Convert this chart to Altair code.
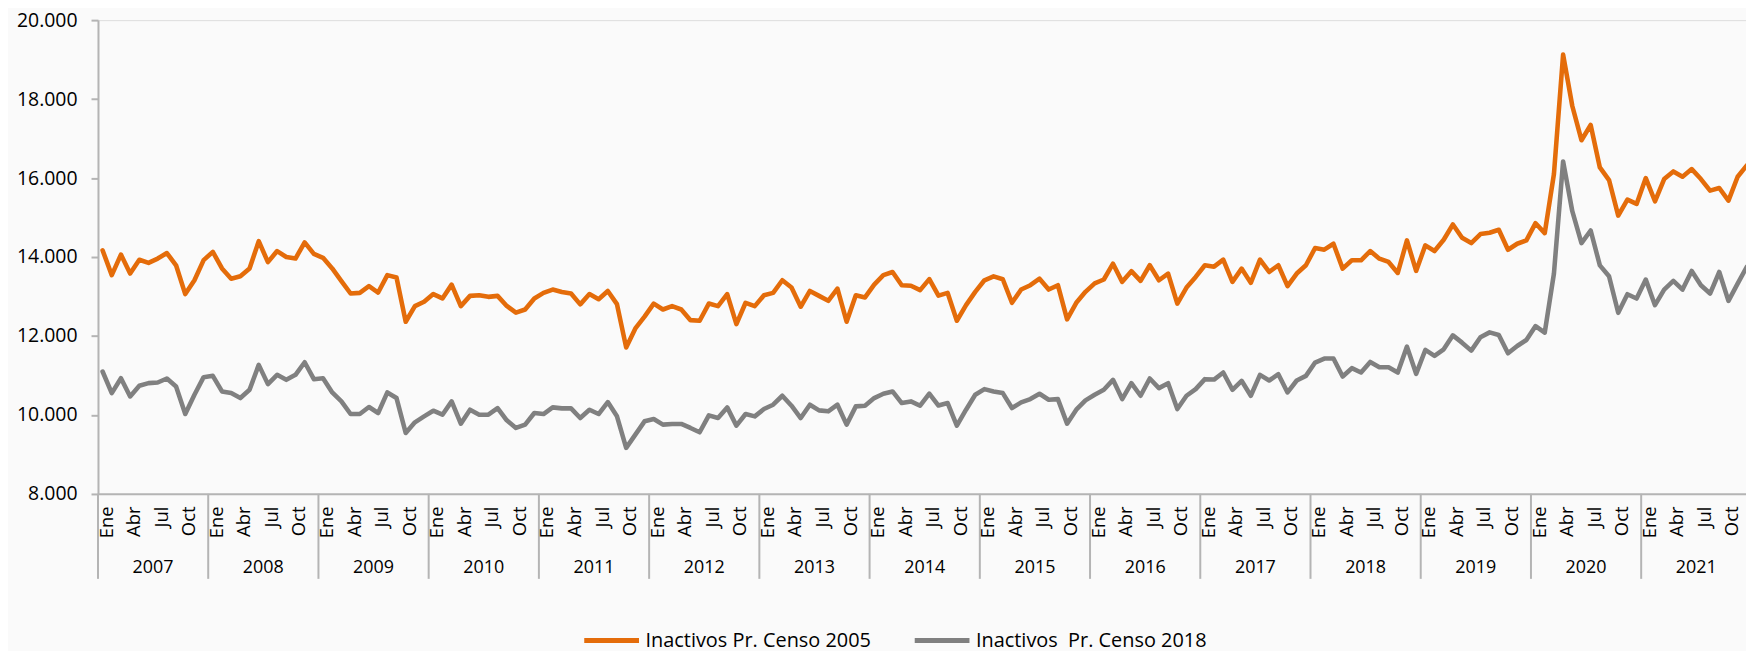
import altair as alt
import pandas as pd

years = list(range(2007, 2022))
month_names = ["Ene", "Feb", "Mar", "Abr", "May", "Jun", "Jul", "Ago", "Sep", "Oct", "Nov", "Dic"]
shown_months = [0, 3, 6, 9]
series_names = ["Inactivos Pr. Censo 2005", "Inactivos\u00a0 Pr. Censo 2018"]
series_colors = ["#e46c0a", "#808080"]
y_ticks = [8000, 10000, 12000, 14000, 16000, 18000, 20000]

censo_2005 = [
    14170, 13540, 14060, 13580, 13930, 13850, 13960, 14100, 13790, 13060, 13410, 13920,
    14130, 13710, 13450, 13510, 13710, 14400, 13870, 14150, 14000, 13960, 14370, 14080,
    13980, 13710, 13390, 13075, 13090, 13260, 13100, 13540, 13480, 12360, 12755, 12865,
    13060, 12950, 13300, 12755, 13015, 13030, 12990, 13015, 12760, 12590, 12670, 12950,
    13090, 13175, 13115, 13075, 12800, 13060, 12930, 13140, 12805, 11710, 12190, 12490,
    12820, 12670, 12755, 12670, 12400, 12385, 12820, 12755, 13060, 12300, 12840, 12755,
    13030, 13090, 13410, 13225, 12740, 13140, 13015, 12890, 13200, 12360, 13030, 12975,
    13300, 13540, 13620, 13285, 13270, 13160, 13440, 13020, 13090, 12385, 12780, 13117,
    13410, 13510, 13437, 12840, 13175, 13285, 13450, 13175, 13285, 12420, 12840, 13117,
    13330, 13430, 13830, 13370, 13640, 13395, 13790, 13410, 13580, 12820, 13225, 13495,
    13790, 13755, 13933, 13370, 13706, 13344, 13933, 13620, 13790, 13260, 13580, 13790,
    14227, 14185, 14336, 13706, 13916, 13916, 14150, 13958, 13874, 13596, 14420, 13647,
    14294, 14150, 14437, 14824, 14488, 14353, 14580, 14614, 14690, 14183, 14335, 14419,
    14856, 14604, 16100, 19127, 17824, 16958, 17344, 16268, 15949, 15049, 15453, 15344,
    15999, 15411, 15974, 16168, 16033, 16226, 15974, 15680, 15747, 15428, 16033, 16320,
]

censo_2018 = [
    11099, 10552, 10930, 10468, 10737, 10804, 10821, 10922, 10720, 10022, 10510, 10956,
    10989, 10594, 10552, 10426, 10636, 11267, 10779, 11014, 10888, 11014, 11334, 10905,
    10930, 10569, 10342, 10022, 10022, 10199, 10047, 10569, 10426, 9543, 9812, 9963,
    10106, 10005, 10342, 9778, 10131, 10005, 10005, 10173, 9862, 9669, 9753, 10047,
    10022, 10190, 10165, 10165, 9921, 10131, 10022, 10325, 9963, 9164, 9500, 9837,
    9896, 9753, 9770, 9770, 9669, 9560, 9989, 9921, 10190, 9728, 10022, 9963,
    10148, 10258, 10485, 10232, 9921, 10258, 10115, 10090, 10258, 9753, 10216, 10232,
    10426, 10535, 10594, 10300, 10342, 10232, 10540, 10237, 10300, 9728, 10131, 10510,
    10653, 10594, 10552, 10173, 10316, 10400, 10535, 10384, 10400, 9778, 10131, 10367,
    10510, 10636, 10888, 10400, 10804, 10485, 10922, 10678, 10804, 10148, 10485, 10653,
    10905, 10895, 11073, 10636, 10863, 10485, 11014, 10871, 11031, 10569, 10871, 10989,
    11326, 11427, 11427, 10972, 11183, 11073, 11342, 11208, 11208, 11073, 11729, 11040,
    11645, 11494, 11662, 12015, 11830, 11628, 11965, 12090, 12024, 11560, 11745, 11897,
    12250, 12082, 13578, 16420, 15159, 14352, 14671, 13788, 13511, 12586, 13057, 12948,
    13427, 12779, 13174, 13393, 13174, 13645, 13284, 13074, 13620, 12889, 13326, 13750,
]

# ---- layout (pixels) ----
PAD_LEFT = 90.4
PAD_TOP = 10.7
PLOT_W = 1655.6
PLOT_H = 475.9
PAD_BOTTOM = 643 - PAD_TOP - PLOT_H
MONTH_PX = 9.228
X_MAX = PLOT_W / MONTH_PX
AXIS_GREY = "#b4b4b4"
FONT = "Open Sans"

rows = []
for i, (a, b) in enumerate(zip(censo_2005, censo_2018)):
    rows.append({"t": i + 0.5, "serie": series_names[0], "valor": a})
    rows.append({"t": i + 0.5, "serie": series_names[1], "valor": b})
df = pd.DataFrame(rows)

month_df = pd.DataFrame(
    [{"t": 12 * k + m + 0.5, "mes": month_names[m]} for k in range(len(years)) for m in shown_months]
)
year_df = pd.DataFrame([{"t": 12 * k + 6, "anio": str(y)} for k, y in enumerate(years)])
sep_df = pd.DataFrame([{"t": 12 * k} for k in range(len(years))])

x_scale = alt.Scale(domain=[0, X_MAX], nice=False, zero=False)

lines = alt.Chart(df).mark_line(strokeWidth=4.6, clip=True, strokeJoin="round", strokeCap="round").encode(
    x=alt.X("t:Q", scale=x_scale,
            axis=alt.Axis(labels=False, ticks=False, title=None, grid=False,
                          domainColor=AXIS_GREY, domainWidth=2)),
    y=alt.Y("valor:Q", scale=alt.Scale(domain=[8000, 20000], nice=False, zero=False),
            axis=alt.Axis(values=y_ticks, title=None, grid=False,
                          labelExpr="replace(format(datum.value, ',.0f'), ',', '.')",
                          labelFontSize=19.5, labelColor="#000000", labelFont=FONT,
                          labelPadding=14, tickSize=7, tickWidth=2, tickColor=AXIS_GREY,
                          domainColor=AXIS_GREY, domainWidth=2)),
    color=alt.Color("serie:N", scale=alt.Scale(domain=series_names, range=series_colors),
                    legend=alt.Legend(orient="none", legendX=486, legendY=593.3,
                                      direction="horizontal", title=None,
                                      symbolType="stroke", symbolSize=3025,
                                      symbolStrokeWidth=5, labelFontSize=20,
                                      labelFont=FONT, labelColor="#000000",
                                      labelOffset=4, columnPadding=33,
                                      labelLimit=600, padding=0)),
)

seps = alt.Chart(sep_df).mark_rule(color=AXIS_GREY, strokeWidth=2).encode(
    x=alt.X("t:Q"),
    y=alt.value(PLOT_H),
    y2=alt.value(PLOT_H + 85.4),
)

month_text = alt.Chart(month_df).mark_text(
    angle=270, align="right", baseline="middle", dy=4, fontSize=18.5, font=FONT, color="#000000"
).encode(
    x=alt.X("t:Q"),
    y=alt.value(PLOT_H + 12.7),
    text="mes:N",
)

year_text = alt.Chart(year_df).mark_text(
    align="center", baseline="middle", fontSize=18, font=FONT, color="#000000"
).encode(
    x=alt.X("t:Q"),
    y=alt.value(550),
    text="anio:N",
)

chart = alt.layer(seps, lines, month_text, year_text).properties(
    width=PLOT_W,
    height=PLOT_H,
    autosize=alt.AutoSizeParams(type="none"),
    padding={"left": PAD_LEFT, "top": PAD_TOP, "right": 0, "bottom": PAD_BOTTOM},
    background="#fafafa",
).configure_view(stroke=None).configure(font=FONT)

chart.save("out.html", embed_options={"renderer": "svg", "actions": False})
